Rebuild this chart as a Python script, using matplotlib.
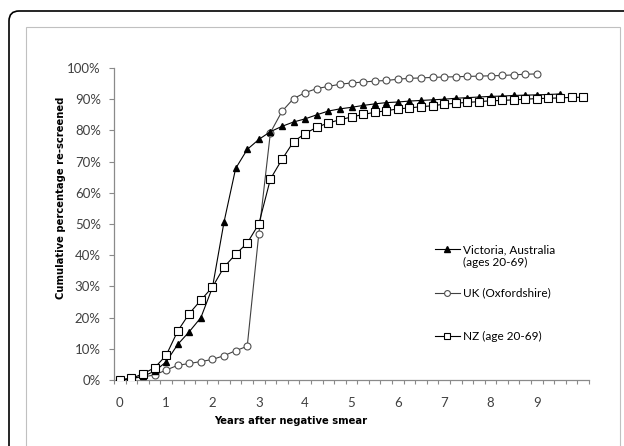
import matplotlib
matplotlib.use('Agg')
import matplotlib.pyplot as plt
from matplotlib.patches import FancyBboxPatch, Rectangle
import numpy as np

# x axis: years after negative smear, quarterly categories
years = np.arange(0, 10.01, 0.25)

# cumulative % re-screened
victoria = [0, 0.5, 1.2, 2.8, 5.8, 11.4, 15.5, 20.0, 29.7, 50.7, 67.8, 73.9, 77.1, 79.6, 81.3, 82.7,
            83.7, 85.0, 86.2, 86.9, 87.4, 88.0, 88.5, 88.9, 89.1, 89.4, 89.6, 89.8, 90.0, 90.3,
            90.5, 90.7, 90.9, 91.0, 91.2, 91.3, 91.4, 91.5, 91.7]
uk = [0, 0.5, 1.0, 1.6, 3.2, 4.7, 5.3, 5.9, 6.6, 7.8, 9.4, 10.8, 46.9, 79.3, 86.1, 90.2,
      92.1, 93.4, 94.1, 94.8, 95.2, 95.5, 95.8, 96.0, 96.4, 96.7, 96.8, 97.0, 97.1, 97.2,
      97.3, 97.4, 97.5, 97.6, 97.8, 98.0, 98.1]
nz = [0, 0.5, 2.0, 3.9, 7.9, 15.7, 21.3, 25.6, 29.8, 36.2, 40.3, 43.9, 50.0, 64.4, 70.7, 76.4,
      79.0, 81.0, 82.4, 83.4, 84.3, 85.1, 85.8, 86.3, 86.9, 87.2, 87.6, 87.9, 88.4, 88.7,
      89.0, 89.2, 89.5, 89.6, 89.8, 90.0, 90.2, 90.3, 90.4, 90.6, 90.6]

labels = ['Victoria, Australia', 'UK (Oxfordshire)', 'NZ (age 20-69)']
year_labels = ['0', '1', '2', '3', '4', '5', '6', '7', '8', '9']

fig = plt.figure(figsize=(6.24, 4.46), dpi=100)

# outer black frame with rounded corner + grey inner box
frame = FancyBboxPatch((0.09, -1.0), 7.5, 4.35 + 1.0, boxstyle='round,pad=0,rounding_size=0.1',
                       transform=fig.dpi_scale_trans, fill=False, edgecolor='black', linewidth=1.2)
fig.add_artist(frame)
inner = Rectangle((0.26, -1.0), 5.94, 4.19 + 1.0, transform=fig.dpi_scale_trans,
                  fill=False, edgecolor='#c0c0c0', linewidth=0.8)
fig.add_artist(inner)

ax = fig.add_axes([114 / 624, 66 / 446, 475 / 624, 312 / 446])

l_vic, = ax.plot(years[:len(victoria)], victoria, '-', color='black', lw=0.8,
                 marker='^', ms=5, mfc='black', mec='black', zorder=3)
l_uk, = ax.plot(years[:len(uk)], uk, '-', color='#404040', lw=0.8,
                marker='o', ms=5, mfc='white', mec='#505050', mew=0.8, zorder=2)
l_nz, = ax.plot(years[:len(nz)], nz, '-', color='black', lw=0.8,
                marker='s', ms=5.3, mfc='white', mec='black', mew=0.8, zorder=4)

ax.set_xlim(-0.125, 10.125)
ax.set_ylim(0, 100)
for s in ['top', 'right']:
    ax.spines[s].set_visible(False)
for s in ['left', 'bottom']:
    ax.spines[s].set_color('#8a8a8a')
    ax.spines[s].set_linewidth(0.9)

ax.set_yticks(range(0, 101, 10))
ax.set_yticklabels(['%d%%' % v for v in range(0, 101, 10)])
ax.tick_params(axis='y', direction='out', length=3.5, width=0.8, color='#8a8a8a',
               pad=6, labelsize=9.5, labelcolor='#404040')
ax.set_xticks(range(0, 10))
ax.set_xticklabels(year_labels)
ax.set_xticks(np.arange(-0.125, 10.2, 0.25), minor=True)
ax.tick_params(axis='x', which='major', length=0, pad=12, labelsize=9.5, labelcolor='#404040')
ax.tick_params(axis='x', which='minor', direction='out', length=3, width=0.8, color='#8a8a8a')
for t in ax.get_xticklabels() + ax.get_yticklabels():
    t.set_fontfamily('Lato')

ax.set_xlabel('Years after negative smear', fontsize=7.2, fontweight='bold', family='DejaVu Sans')
ax.xaxis.set_label_coords(0.373, -0.115)
ax.set_ylabel('Cumulative percentage re-screened', fontsize=7.2, fontweight='bold', family='DejaVu Sans')
ax.yaxis.set_label_coords(-0.10, 0.585)

leg = ax.legend([l_vic, l_uk, l_nz], labels, loc='upper left', bbox_to_anchor=(0.676, 0.435),
                frameon=False, borderpad=0, borderaxespad=0, handlelength=2.1,
                handletextpad=0.25, labelspacing=2.75, prop={'family': 'Lato', 'size': 8.5})
for h in leg.legend_handles:
    h.set_markersize(4.2)
ax.annotate('(ages 20-69)', xy=(0, 0), xycoords=leg.get_texts()[0], xytext=(0, -1.5),
            textcoords='offset points', va='top', ha='left', family='Lato', fontsize=8.5,
            zorder=10)

fig.savefig('out.png', dpi=100)
